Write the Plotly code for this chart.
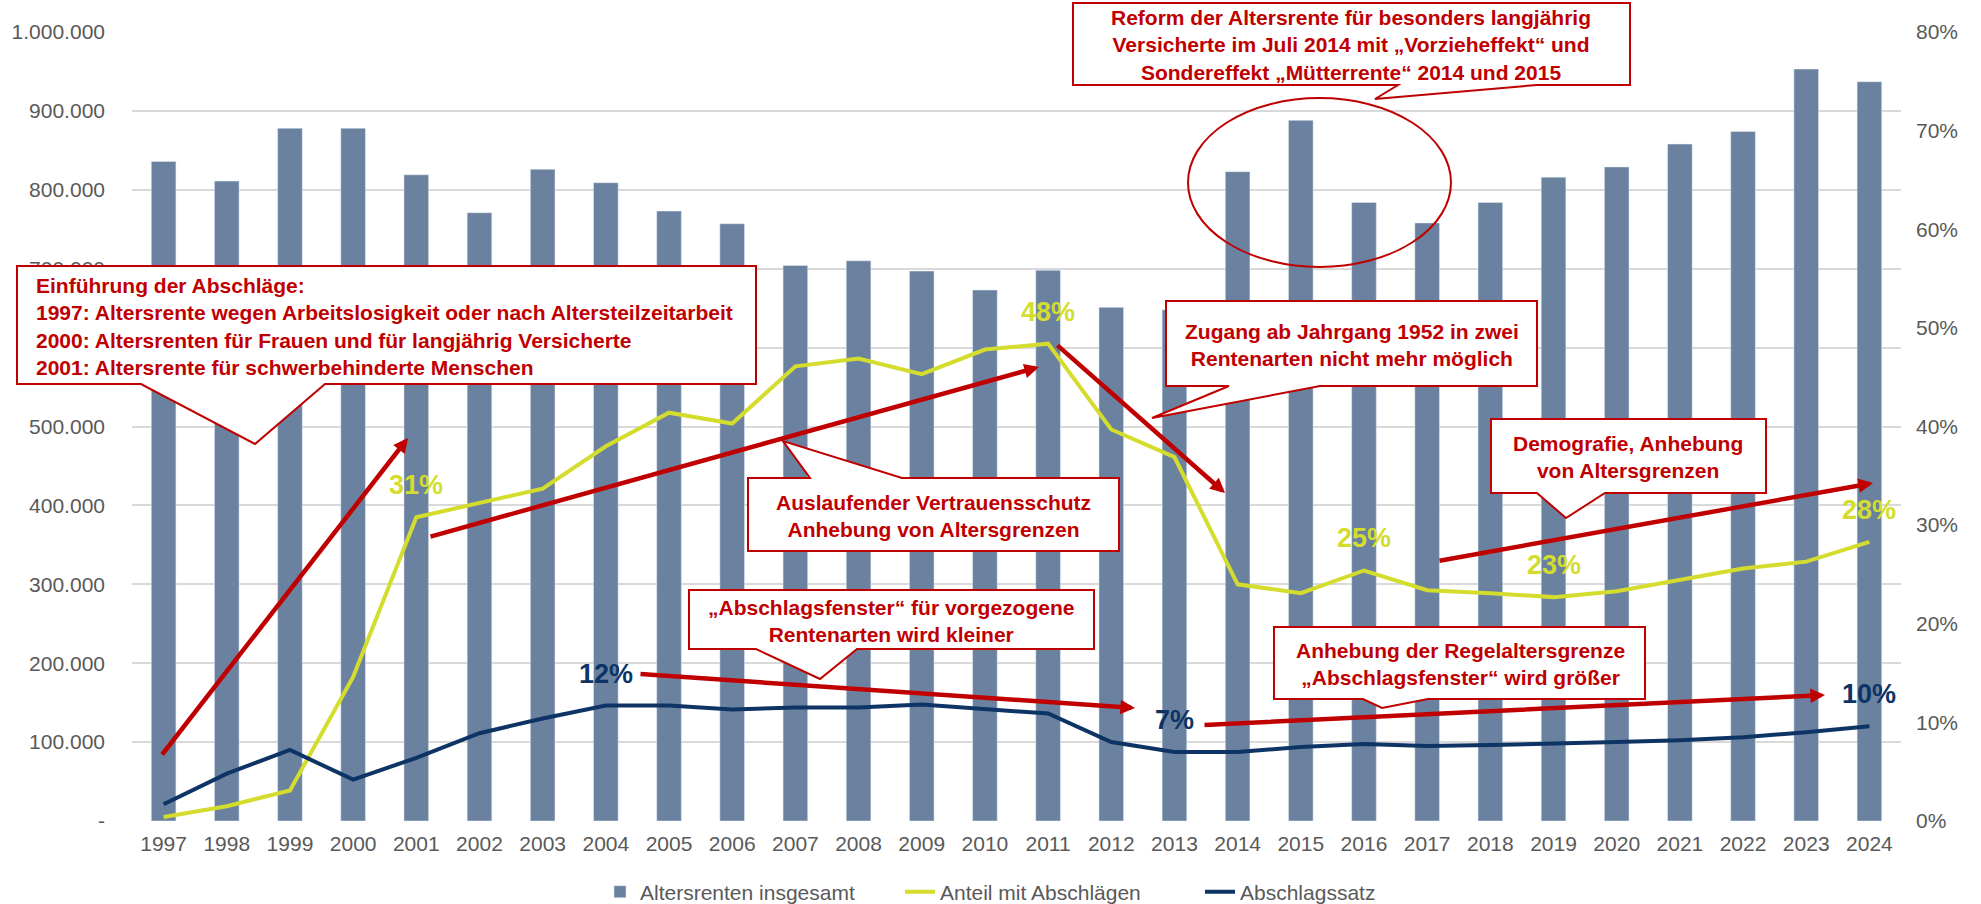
import plotly.graph_objects as go

# --- Daten ---
jahre = list(range(1997, 2025))
altersrenten = [836000, 811000, 878000, 878000, 819000, 771000, 826000, 809000, 773000, 757000,
                704000, 710000, 697000, 673000, 698000, 651000, 648000, 823000, 888000, 784000,
                758000, 784000, 816000, 829000, 858000, 874000, 953000, 937000]
anteil_abschlaege = [0.4, 1.5, 3.1, 14.6, 30.8, 32.3, 33.7, 38.0, 41.4, 40.3,
                     46.1, 46.9, 45.3, 47.8, 48.4, 39.7, 36.9, 24.0, 23.1, 25.4,
                     23.4, 23.1, 22.7, 23.3, 24.4, 25.6, 26.3, 28.3]
abschlagssatz = [1.7, 4.8, 7.2, 4.2, 6.4, 8.9, 10.4, 11.7, 11.7, 11.3,
                 11.5, 11.5, 11.8, 11.3, 10.9, 8.0, 7.0, 7.0, 7.5, 7.8,
                 7.6, 7.7, 7.8, 8.0, 8.2, 8.5, 9.0, 9.6]

links_ticks = [0, 100000, 200000, 300000, 400000, 500000, 600000, 700000, 800000, 900000, 1000000]
links_ticktext = ["-", "100.000", "200.000", "300.000", "400.000", "500.000",
                  "600.000", "700.000", "800.000", "900.000", "1.000.000"]
rechts_ticks = [0, 10, 20, 30, 40, 50, 60, 70, 80]
rechts_ticktext = ["0%", "10%", "20%", "30%", "40%", "50%", "60%", "70%", "80%"]

# beschriftete Jahre je Linie
label_anteil = [2001, 2011, 2016, 2019, 2024]
label_satz = [2004, 2013, 2024]

BAR = "#6A829F"
GELB = "#D4DD2D"
NAVY = "#0D3465"
ROT = "#C00000"
GRAU = "#595959"
FONT = "Liberation Sans, Arial, sans-serif"

W, H = 1981, 904
L, R, T, B = 132, 1901, 32, 821   # Plotbereich in Pixeln


def px(x):
    return (x - L) / (R - L)


def py(y):
    return (B - y) / (B - T)


fig = go.Figure()

fig.add_trace(go.Bar(
    x=jahre, y=altersrenten, name="Altersrenten insgesamt",
    marker=dict(color=BAR), width=0.39
))
fig.add_trace(go.Scatter(
    x=jahre, y=anteil_abschlaege, name="Anteil mit Abschlägen", yaxis="y2",
    mode="lines", line=dict(color=GELB, width=4)
))
fig.add_trace(go.Scatter(
    x=jahre, y=abschlagssatz, name="Abschlagssatz", yaxis="y2",
    mode="lines", line=dict(color=NAVY, width=4)
))

annotations = []

# Prozent-Beschriftungen an den Linien
for j in label_anteil:
    v = anteil_abschlaege[jahre.index(j)]
    annotations.append(dict(x=j, y=v, xref="x", yref="y2", yshift=32, showarrow=False,
                            text=f"{round(v)}%", font=dict(family=FONT, size=27, color=GELB, weight="bold")))
for j in label_satz:
    v = abschlagssatz[jahre.index(j)]
    annotations.append(dict(x=j, y=v, xref="x", yref="y2", yshift=32, showarrow=False,
                            text=f"{round(v)}%", font=dict(family=FONT, size=27, color=NAVY, weight="bold")))

# rote Trendpfeile: (Ende x, Ende y, Spitze x, Spitze y) in Pixeln
pfeile = [
    (161, 756, 408, 438),
    (429, 537, 1039, 367),
    (1056, 344, 1225, 493),
    (639, 674, 1135, 708),
    (1203, 725, 1825, 695),
    (1438, 561, 1873, 483),
]
for x0, y0, x1, y1 in pfeile:
    annotations.append(dict(x=px(x1), y=py(y1), xref="paper", yref="paper", text="",
                            showarrow=True, ax=x0 - x1, ay=y0 - y1, arrowhead=2,
                            arrowsize=0.65, arrowwidth=4.5, arrowcolor=ROT, standoff=0))

# Sprechblasen: Box (l, t, r, b), Zeiger (Basis links, Basis rechts, Spitze), Kante, Text
blasen = [
    dict(box=(17, 266, 756, 384), zeiger=(141, 325, (255, 444)), kante="unten",
         zeilen=["Einführung der Abschläge:",
                 "1997: Altersrente wegen Arbeitslosigkeit oder nach Altersteilzeitarbeit",
                 "2000: Altersrenten für Frauen und für langjährig Versicherte",
                 "2001: Altersrente für schwerbehinderte Menschen"],
         text_x=34, text_y=326, align="left"),
    dict(box=(748, 478, 1119, 551), zeiger=(810, 902, (783, 441)), kante="oben",
         zeilen=["Auslaufender Vertrauensschutz", "Anhebung von Altersgrenzen"],
         text_x=933, text_y=516, align="center"),
    dict(box=(689, 590, 1094, 649), zeiger=(756, 857, (820, 679)), kante="unten",
         zeilen=["„Abschlagsfenster“ für vorgezogene", "Rentenarten wird kleiner"],
         text_x=891, text_y=621, align="center"),
    dict(box=(1274, 627, 1645, 699), zeiger=(1363, 1428, (1382, 708)), kante="unten",
         zeilen=["Anhebung der Regelaltersgrenze", "„Abschlagsfenster“ wird größer"],
         text_x=1460, text_y=664, align="center"),
    dict(box=(1166, 301, 1537, 386), zeiger=(1229, 1320, (1152, 418)), kante="unten",
         zeilen=["Zugang ab Jahrgang 1952 in zwei", "Rentenarten nicht mehr möglich"],
         text_x=1352, text_y=345, align="center"),
    dict(box=(1491, 419, 1766, 493), zeiger=(1537, 1605, (1566, 518)), kante="unten",
         zeilen=["Demografie, Anhebung", "von Altersgrenzen"],
         text_x=1628, text_y=457, align="center"),
    dict(box=(1073, 3, 1630, 85), zeiger=(1398, 1537, (1375, 99)), kante="unten",
         zeilen=["Reform der Altersrente für besonders langjährig",
                 "Versicherte im Juli 2014 mit „Vorzieheffekt“ und",
                 "Sondereffekt „Mütterrente“ 2014 und 2015"],
         text_x=1351, text_y=45, align="center"),
]

shapes = []
for bl in blasen:
    l, t, r, b = bl["box"]
    b0, b1, (sx, sy) = bl["zeiger"]
    if bl["kante"] == "unten":
        pts = [(l, t), (r, t), (r, b), (b1, b), (sx, sy), (b0, b), (l, b)]
    else:
        pts = [(l, t), (b0, t), (sx, sy), (b1, t), (r, t), (r, b), (l, b)]
    path = "M " + " L ".join(f"{px(x):.5f},{py(y):.5f}" for x, y in pts) + " Z"
    shapes.append(dict(type="path", path=path, xref="paper", yref="paper",
                       fillcolor="white", line=dict(color=ROT, width=2), layer="above"))
    annotations.append(dict(x=px(bl["text_x"]), y=py(bl["text_y"]), xref="paper", yref="paper",
                            text="<br>".join(bl["zeilen"]), showarrow=False,
                            xanchor=bl["align"], yanchor="middle", align=bl["align"],
                            font=dict(family=FONT, size=21, color=ROT, weight="bold")))

# Ellipse um 2014-2016
shapes.append(dict(type="circle", xref="paper", yref="paper",
                   x0=px(1188), x1=px(1451), y0=py(267), y1=py(98),
                   line=dict(color=ROT, width=2), layer="above"))

fig.update_layout(
    width=W, height=H,
    margin=dict(l=L, r=W - R, t=T, b=H - B),
    plot_bgcolor="white", paper_bgcolor="white",
    font=dict(family=FONT, size=21, color=GRAU),
    showlegend=True,
    legend=dict(orientation="h", xref="container", yref="container", x=600 / W, xanchor="left",
                y=(H - 892) / H, yanchor="middle", entrywidth=255, entrywidthmode="pixels",
                font=dict(size=21, color=GRAU), traceorder="normal"),
    xaxis=dict(range=[1996.5, 2024.5], tickvals=jahre, ticktext=[str(j) for j in jahre],
               showgrid=False, zeroline=False, showline=False, ticks="", ticklabelstandoff=8,
               tickfont=dict(size=21, color=GRAU)),
    yaxis=dict(range=[0, 1000000], tickvals=links_ticks, ticktext=links_ticktext,
               showgrid=True, gridcolor="#D9D9D9", gridwidth=1.5, zeroline=False, ticks="",
               ticklabelstandoff=26, tickfont=dict(size=21, color=GRAU)),
    yaxis2=dict(range=[0, 80], tickvals=rechts_ticks, ticktext=rechts_ticktext, overlaying="y",
                side="right", showgrid=False, zeroline=False, ticks="", ticklabelstandoff=14,
                tickfont=dict(size=21, color=GRAU)),
    bargap=0.6,
    shapes=shapes,
    annotations=annotations,
)

# Seitenrand des Browsers entfernen, damit die Grafik das Fenster genau füllt
fig.write_html("out.html", config={"displayModeBar": False},
               post_script="document.body.style.margin='0';")
